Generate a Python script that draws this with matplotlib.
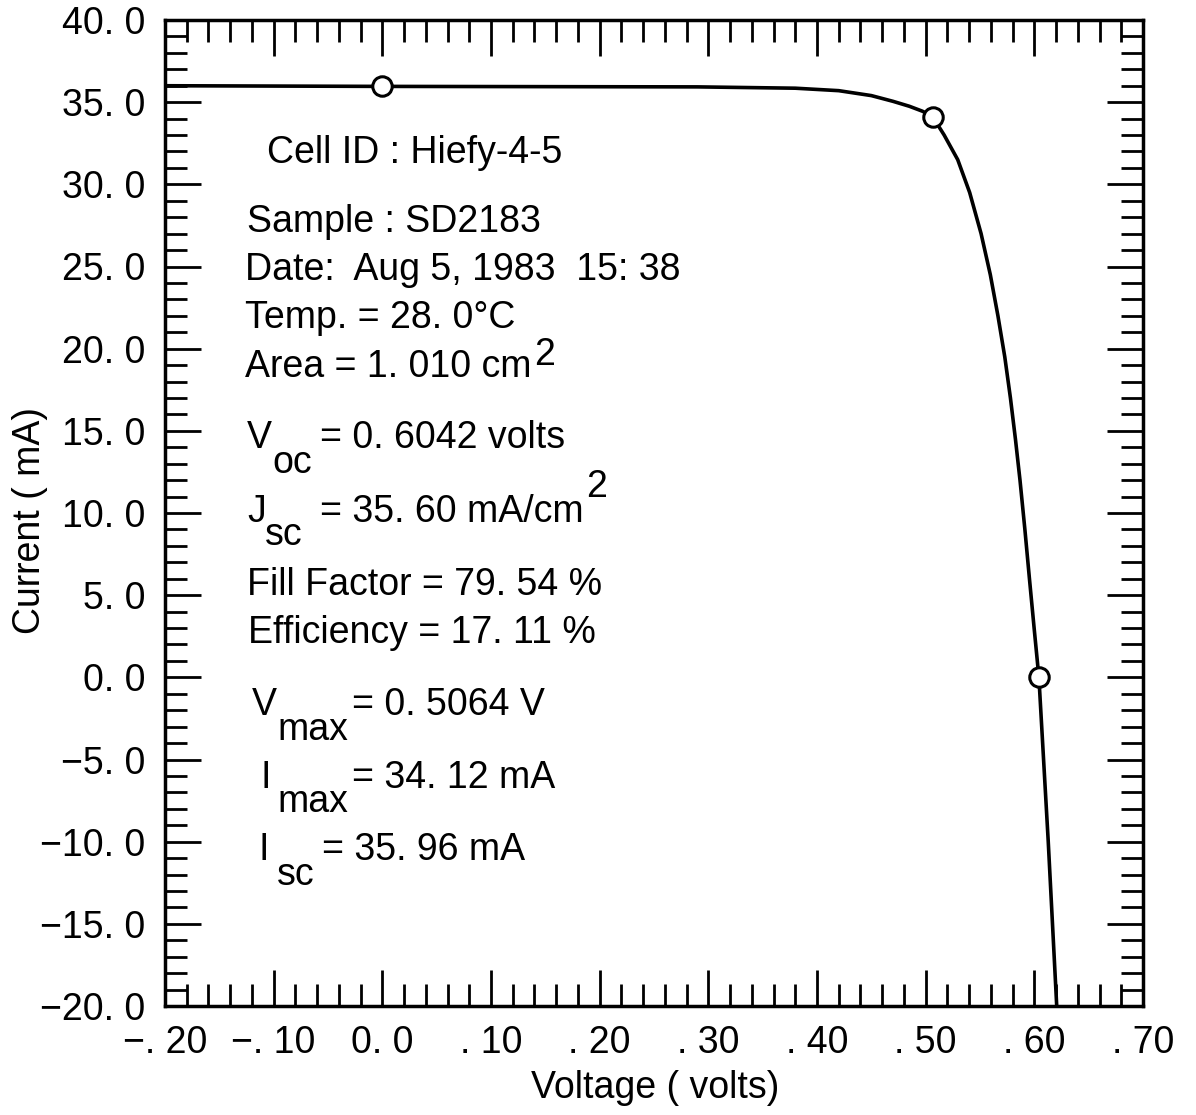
import numpy as np
import matplotlib
matplotlib.use("Agg")
import matplotlib.pyplot as plt
from matplotlib.ticker import MultipleLocator

plt.rcParams['font.family'] = ['Liberation Sans', 'DejaVu Sans']

# I-V curve
volts = [-0.20, 0.0, 0.29, 0.38, 0.42, 0.45, 0.47, 0.485, 0.497, 0.5064, 0.517,
         0.5295, 0.5405, 0.551, 0.5595, 0.5665, 0.5728, 0.578, 0.5826, 0.5868,
         0.5913, 0.5955, 0.5998, 0.6042, 0.6128, 0.6206]
current = [36.0, 35.96, 35.93, 35.85, 35.7, 35.4, 35.05, 34.75, 34.45, 34.12, 33.0,
           31.5, 29.5, 27.0, 24.5, 22.0, 19.5, 17.0, 14.5, 12.0,
           9.0, 6.0, 3.0, 0.0, -10.0, -20.0]

# marked points: Isc, max power point, Voc
pt_v = [0.0, 0.5064, 0.6042]
pt_i = [35.96, 34.12, 0.0]

xticks = [-0.2, -0.1, 0.0, 0.1, 0.2, 0.3, 0.4, 0.5, 0.6, 0.7]
xlabels = ['\u2212. 20', '\u2212. 10', '0. 0', '. 10', '. 20', '. 30', '. 40',
           '. 50', '. 60', '. 70']
yticks = [40, 35, 30, 25, 20, 15, 10, 5, 0, -5, -10, -15, -20]
ylabels = ['40. 0', '35. 0', '30. 0', '25. 0', '20. 0', '15. 0', '10. 0', '5. 0',
           '0. 0', '\u22125. 0', '\u221210. 0', '\u221215. 0', '\u221220. 0']

W, H = 1196, 1115
fig = plt.figure(figsize=(W / 100, H / 100), dpi=100)
ax = fig.add_axes([165 / W, 1 - 1006 / H, (1143 - 165) / W, (1006 - 20) / H])

ax.plot(volts, current, color='k', lw=2.6, solid_capstyle='butt')
ax.plot(pt_v, pt_i, 'o', ms=14, mfc='white', mec='k', mew=2.2)

ax.set_xlim(-0.2, 0.7)
ax.set_ylim(-20, 40)
ax.set_xticks(xticks)
ax.set_xticklabels(xlabels)
ax.set_yticks(yticks)
ax.set_yticklabels(ylabels)
ax.xaxis.set_minor_locator(MultipleLocator(0.02))
ax.yaxis.set_minor_locator(MultipleLocator(1.0))
ax.tick_params(which='both', direction='in', top=True, right=True, width=2.0,
               labelsize=27)
ax.tick_params(which='major', length=26)
ax.tick_params(which='minor', length=16)
ax.tick_params(axis='x', pad=14)
ax.tick_params(axis='y', pad=14)
for sp in ax.spines.values():
    sp.set_linewidth(2.5)

fig.text(655 / W, 1 - 1088 / H, 'Voltage ( volts)', ha='center', va='center', fontsize=27)
fig.text(30 / W, 1 - 520 / H, 'Current ( mA)', ha='center', va='center',
         rotation=90, fontsize=27)

renderer = fig.canvas.get_renderer()


def put(x, y, s, size=27):
    # place text at pixel position (baseline), return right edge in pixels
    t = fig.text(x / W, 1 - y / H, s, ha='left', va='baseline', fontsize=size)
    bb = t.get_window_extent(renderer)
    return bb.x1


put(267, 163, 'Cell ID : Hiefy-4-5')
put(247, 232, 'Sample : SD2183')
put(245, 280, 'Date:  Aug 5, 1983  15: 38')
put(245, 328, 'Temp. = 28. 0\u00b0C')
end = put(245, 377, 'Area = 1. 010 cm')
put(end + 3, 365, '2')
put(247, 448, 'V')
put(272, 473, 'oc')
put(320, 448, '= 0. 6042 volts')
put(247, 522, 'J')
put(265, 545, 'sc')
end = put(320, 522, '= 35. 60 mA/cm')
put(end + 3, 497, '2')
put(247, 595, 'Fill Factor = 79. 54 %')
put(248, 643, 'Efficiency = 17. 11 %')
put(252, 715, 'V')
put(277, 740, 'max')
put(352, 715, '= 0. 5064 V')
put(260, 788, 'I')
put(277, 812, 'max')
put(352, 788, '= 34. 12 mA')
put(258, 860, 'I')
put(277, 885, 'sc')
put(322, 860, '= 35. 96 mA')

fig.savefig('out.png', dpi=100)
